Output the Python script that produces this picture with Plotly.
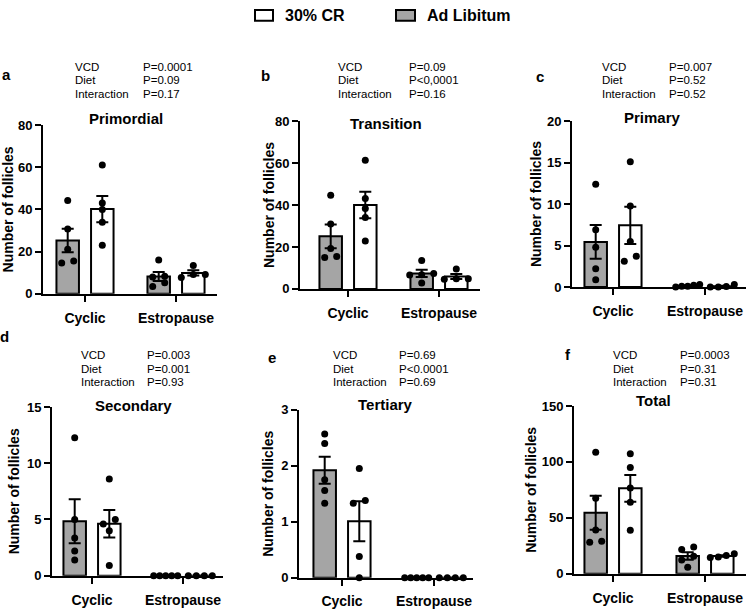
import numpy as np
import plotly.graph_objects as go

W, H = 746, 612
FONT = "Liberation Sans, Arial, sans-serif"

# ---------------- data ----------------
categories = ["Cyclic", "Estropause"]
legend_labels = ["30% CR", "Ad Libitum"]
pvalue_labels = ["VCD", "Diet", "Interaction"]
panel_letters = ["a", "b", "c", "d", "e", "f"]
panel_titles = ["Primordial", "Transition", "Primary", "Secondary", "Tertiary", "Total"]

# individual animals: [Cyclic, Estropause]
primordial_adlib = [[44.2, 30.7, 21.1, 14.6, 15.6], [16.0, 8.0, 8.3, 3.4, 5.2]]
primordial_cr = [[61.0, 43.0, 39.9, 33.9, 23.0], [13.4, 7.7, 9.2, 9.2]]
transition_adlib = [[44.6, 31.0, 19.3, 15.0, 15.4], [13.6, 6.7, 7.3, 2.8, 6.6]]
transition_cr = [[61.4, 43.1, 38.4, 34.1, 22.9], [9.5, 4.8, 4.8, 4.6]]
primary_adlib = [[12.4, 6.9, 4.8, 2.2, 0.86], [0.3, 0.1, 0.0, 0.2, 0.1]]
primary_cr = [[15.1, 9.77, 5.47, 3.1, 3.7], [0.0, 0.3, 0.05, 0.0]]
secondary_adlib = [[12.26, 5.0, 3.36, 2.2, 1.39], [0.0, 0.0, 0.0, 0.0, 0.0]]
secondary_cr = [[8.6, 4.6, 5.0, 4.0, 0.9], [0.0, 0.0, 0.0, 0.0]]
tertiary_adlib = [[2.57, 2.4, 1.75, 1.56, 1.33], [0.0, 0.0, 0.0, 0.0, 0.0]]
tertiary_cr = [[1.95, 1.33, 1.38, 0.38, 0.0], [0.0, 0.0, 0.0, 0.0]]
total_adlib = [[108.7, 67.5, 39.2, 28.2, 29.1], [23.9, 21.8, 15.7, 12.2, 5.8]]
total_cr = [[107.2, 95.0, 76.7, 64.0, 39.0], [17.8, 14.5, 16.3, 15.0]]

adlib_data = [primordial_adlib, transition_adlib, primary_adlib,
              secondary_adlib, tertiary_adlib, total_adlib]
cr_data = [primordial_cr, transition_cr, primary_cr,
           secondary_cr, tertiary_cr, total_cr]

primordial_ticks = [0, 20, 40, 60, 80]
transition_ticks = [0, 20, 40, 60, 80]
primary_ticks = [0, 5, 10, 15, 20]
secondary_ticks = [0, 5, 10, 15]
tertiary_ticks = [0, 1, 2, 3]
total_ticks = [0, 50, 100, 150]
y_ticks = [primordial_ticks, transition_ticks, primary_ticks,
           secondary_ticks, tertiary_ticks, total_ticks]

primordial_p = ["P=0.0001", "P=0.09", "P=0.17"]
transition_p = ["P=0.09", "P<0,0001", "P=0.16"]
primary_p = ["P=0.007", "P=0.52", "P=0.52"]
secondary_p = ["P=0.003", "P=0.001", "P=0.93"]
tertiary_p = ["P=0.69", "P<0.0001", "P=0.69"]
total_p = ["P=0.0003", "P=0.31", "P=0.31"]
p_values = [primordial_p, transition_p, primary_p, secondary_p, tertiary_p, total_p]

y_title = "Number of follicles"

# ---------------- geometry (pixels) ----------------
# axis left, axis right, tick1, tick2, y0 px, ytop px
geo = [
    (43, 217, 85, 176, 294, 121),
    (300, 480, 348, 439, 289, 117),
    (572, 746, 613, 705, 287, 117),
    (52, 223, 92, 183, 583, 410),
    (299, 473, 342, 434, 585, 413),
    (574, 746, 613, 705, 581, 409),
]
title_pos = [(126, 114), (386, 119), (652, 113), (133, 408), (385, 407), (653, 403)]
letter_pos = [(6, 69), (265, 70), (540, 71), (4, 338), (272, 359), (568, 356)]
p_label_x = [73, 336, 600, 79, 331, 611]
p_value_x = [141, 407, 667, 145, 397, 678]
p_rows_y = [(62, 75, 89), (62, 75, 89), (61, 75, 89),
            (357, 371, 384), (357, 371, 384), (357, 371, 384)]
ytitle_x = [8, 269, 536, 14, 268, 531]

GRAY = "#a5a5a5"


def px(x):
    return x / W


def py(y):
    return 1 - y / H


def jitter(vals, ppu, sp):
    vals = np.asarray(vals, dtype=float)
    order = list(np.argsort(vals, kind="stable"))
    offs = np.zeros(len(vals))
    clusters, cur = [], [order[0]]
    for a, b in zip(order[:-1], order[1:]):
        if (vals[b] - vals[a]) * ppu < 5.5:
            cur.append(b)
        else:
            clusters.append(cur)
            cur = [b]
    clusters.append(cur)
    for c in clusters:
        k = len(c)
        if k > 1:
            step = min(12, 24 / (k - 1))
            for j, idx in enumerate(c):
                offs[idx] = (j - (k - 1) / 2) * step / sp
    return offs


fig = go.Figure()
annotations = []
layout_axes = {}

for i in range(6):
    L, R, t1, t2, y0, yt = geo[i]
    sp = t2 - t1
    ymax = y_ticks[i][-1]
    ppu = (y0 - yt) / ymax
    xs = "x" if i == 0 else f"x{i+1}"
    ys = "y" if i == 0 else f"y{i+1}"
    xk = "xaxis" if i == 0 else f"xaxis{i+1}"
    yk = "yaxis" if i == 0 else f"yaxis{i+1}"
    bw = 22.5 / sp
    off = 17.3 / sp

    for grp, (data, fill, sign) in enumerate([(adlib_data[i], GRAY, -1), (cr_data[i], "white", 1)]):
        xpos = [c + sign * off for c in range(len(categories))]
        means = [float(np.mean(v)) for v in data]
        sems = [float(np.std(v, ddof=1) / np.sqrt(len(v))) for v in data]
        fig.add_trace(go.Bar(
            x=xpos, y=means, width=bw, xaxis=xs, yaxis=ys,
            marker=dict(color=fill, line=dict(color="black", width=2)),
            error_y=dict(type="data", array=sems, color="black", thickness=2, width=6),
            showlegend=False, cliponaxis=False,
        ))
        sx, sy = [], []
        for c, v in enumerate(data):
            jo = jitter(v, ppu, sp)
            for val, o in zip(v, jo):
                sx.append(xpos[c] + o)
                sy.append(val)
        fig.add_trace(go.Scatter(
            x=sx, y=sy, mode="markers", xaxis=xs, yaxis=ys,
            marker=dict(color="black", size=7, line=dict(width=0)),
            showlegend=False, cliponaxis=False,
        ))

    layout_axes[xk] = dict(
        domain=[px(L), px(R)], range=[(L - t1) / sp, (R - t1) / sp],
        anchor=ys, showline=True, linecolor="black", linewidth=2,
        ticks="outside", ticklen=6, tickwidth=2, tickcolor="black",
        ticklabelstandoff=4,
        tickvals=list(range(len(categories))), ticktext=categories,
        tickfont=dict(family=FONT, size=14, color="black", weight="bold"),
        showgrid=False, zeroline=False, fixedrange=True,
    )
    layout_axes[yk] = dict(
        domain=[py(y0), py(yt)], range=[0, ymax], anchor=xs,
        showline=True, linecolor="black", linewidth=2,
        ticks="outside", ticklen=6, tickwidth=2, tickcolor="black",
        tickvals=y_ticks[i],
        tickfont=dict(family=FONT, size=13, color="black", weight="bold"),
        showgrid=False, zeroline=False, fixedrange=True,
    )

    # y title
    annotations.append(dict(
        x=px(ytitle_x[i]), y=py((y0 + yt) / 2), xref="paper", yref="paper",
        text=f"<b>{y_title}</b>", textangle=-90, showarrow=False,
        xanchor="center", yanchor="middle",
        font=dict(family=FONT, size=14, color="black"),
    ))
    # panel title
    annotations.append(dict(
        x=px(title_pos[i][0]), y=py(title_pos[i][1]), xref="paper", yref="paper",
        text=f"<b>{panel_titles[i]}</b>", showarrow=False,
        xanchor="center", yanchor="middle",
        font=dict(family=FONT, size=15, color="black"),
    ))
    # letter
    annotations.append(dict(
        x=px(letter_pos[i][0]), y=py(letter_pos[i][1]), xref="paper", yref="paper",
        text=f"<b>{panel_letters[i]}</b>", showarrow=False,
        xanchor="center", yanchor="middle",
        font=dict(family=FONT, size=15, color="black"),
    ))
    # p-values
    for r in range(3):
        annotations.append(dict(
            x=px(p_label_x[i]), y=py(p_rows_y[i][r]), xref="paper", yref="paper",
            text=pvalue_labels[r], showarrow=False, xanchor="left", yanchor="middle",
            font=dict(family=FONT, size=11.5, color="black"),
        ))
        annotations.append(dict(
            x=px(p_value_x[i]), y=py(p_rows_y[i][r]), xref="paper", yref="paper",
            text=p_values[i][r], showarrow=False, xanchor="left", yanchor="middle",
            font=dict(family=FONT, size=11.5, color="black"),
        ))

# legend (drawn)
shapes = []
legend_boxes = [(255, 3, 273, 14, "white"), (396, 3, 415, 14, GRAY)]
legend_text_x = [283, 425]
for (x0, y0_, x1, y1_, col), tx, lab in zip(legend_boxes, legend_text_x, legend_labels):
    shapes.append(dict(type="rect", xref="paper", yref="paper",
                       x0=px(x0), x1=px(x1), y0=py(y1_), y1=py(y0_),
                       line=dict(color="black", width=2), fillcolor=col))
    annotations.append(dict(
        x=px(tx), y=py(9), xref="paper", yref="paper", text=f"<b>{lab}</b>",
        showarrow=False, xanchor="left", yanchor="middle",
        font=dict(family=FONT, size=16, color="black"),
    ))

fig.update_layout(
    width=W, height=H, margin=dict(l=0, r=0, t=0, b=0),
    paper_bgcolor="white", plot_bgcolor="white",
    barmode="overlay", showlegend=False,
    annotations=annotations, shapes=shapes,
    font=dict(family=FONT, color="black"),
    **layout_axes,
)

fig.write_html(
    "out.html",
    config={"displayModeBar": False},
    post_script="document.body.style.margin='0';document.body.style.overflow='hidden';",
)
